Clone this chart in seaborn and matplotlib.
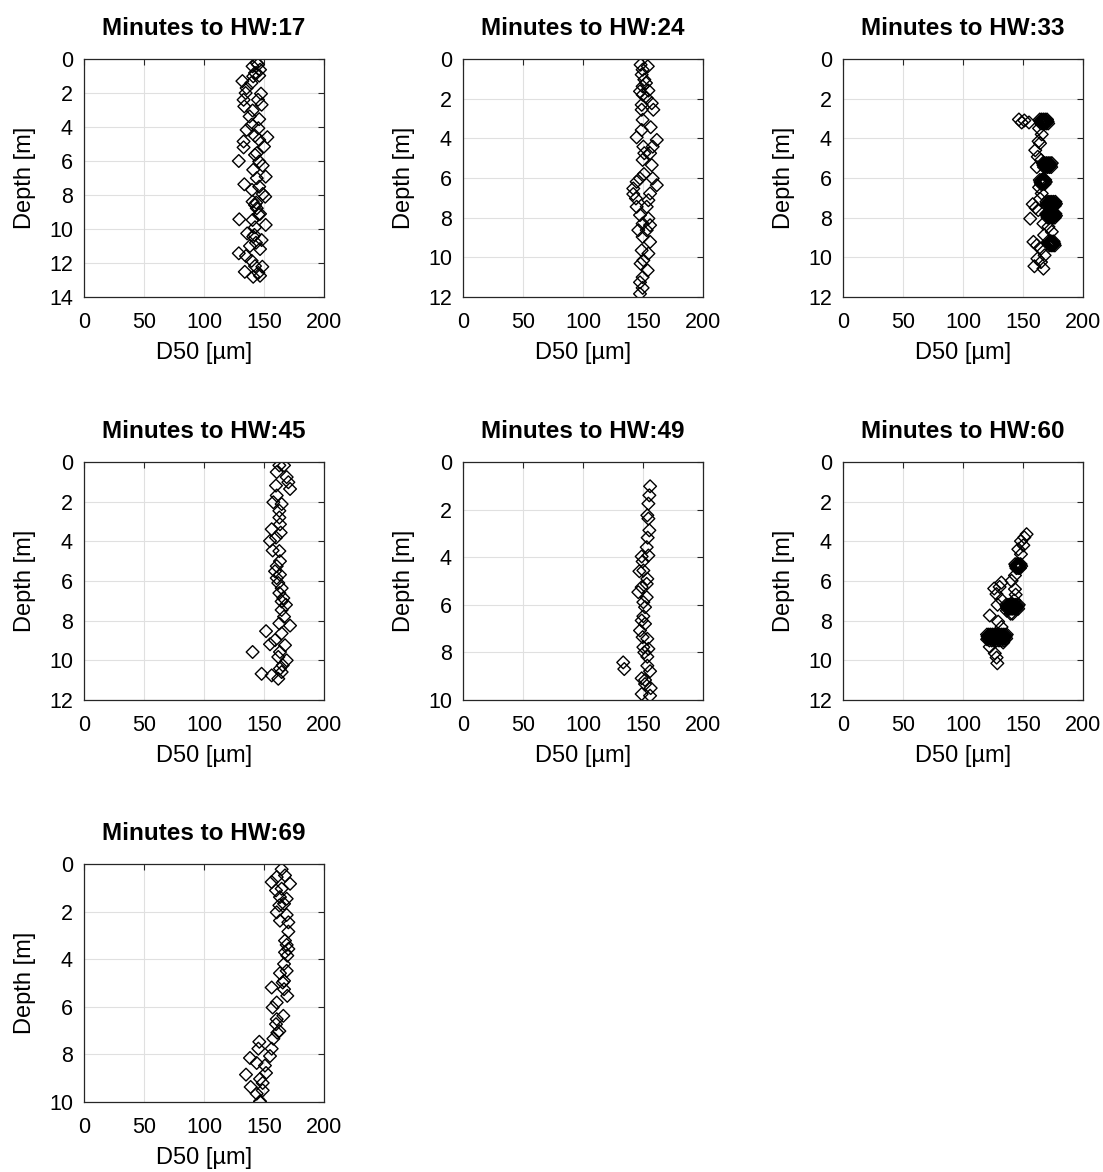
import numpy as np
import pandas as pd
import matplotlib
matplotlib.use("Agg")
import matplotlib.pyplot as plt
import seaborn as sns

titles = ["Minutes to HW:17", "Minutes to HW:24", "Minutes to HW:33",
          "Minutes to HW:45", "Minutes to HW:49", "Minutes to HW:60",
          "Minutes to HW:69"]
ylims = [14, 12, 12, 12, 10, 12, 10]
yticks = [list(range(0, 15, 2)), list(range(0, 13, 2)), list(range(0, 13, 2)),
          list(range(0, 13, 2)), list(range(0, 11, 2)), list(range(0, 13, 2)),
          list(range(0, 11, 2))]
xticks = [0, 50, 100, 150, 200]

# HW:17
d50_17 = [144, 140.5, 145, 146.7, 142.5, 141, 146, 132, 139.5, 135.5, 134.7, 147.5,
          145, 133, 148, 133.6, 140.5, 138, 146, 139.7, 135.5, 145.3, 152.8, 142.5,
          146, 133, 150, 133, 144, 142.5, 146, 129, 148.9, 141, 151.4, 144, 133.6,
          140, 146, 149, 151, 140.5, 142.5, 144, 146.7, 129.4, 140.5, 151.4, 142.5,
          136, 141, 143.3, 148, 138.3, 146.7, 129, 135, 139.7, 142.5, 148.6, 134,
          145.3, 141, 146.7, 143.5, 142, 145.5]
dep_17 = [0.24, 0.43, 0.33, 0.63, 0.82, 1.02, 0.98, 1.3, 1.41, 1.71, 2.0, 2.04,
          2.4, 2.4, 2.69, 2.79, 3.03, 3.38, 3.54, 3.87, 4.17, 4.07, 4.6, 4.52,
          4.76, 4.85, 5.15, 5.2, 5.54, 5.64, 6.03, 6.0, 6.27, 6.52, 6.92, 7.01,
          7.37, 7.7, 7.51, 7.94, 8.1, 8.39, 8.59, 8.78, 9.11, 9.43, 9.47, 9.76,
          9.9, 10.26, 10.45, 10.81, 10.65, 11.0, 11.18, 11.43, 11.59, 11.87, 12.18,
          12.22, 12.52, 12.58, 12.81, 12.75, 8.45, 10.35, 9.15]

# HW:24
d50_24 = [148, 154, 149.7, 148.9, 151.1, 152.5, 149.7, 147.5, 154.5, 149.7, 153.1,
          157.3, 158.6, 148.9, 148.9, 149.7, 156.4, 148.9, 144.7, 161.5, 150.3,
          158.1, 151.1, 155.9, 149.7, 157.3, 150.8, 147.5, 158.1, 144.7, 161.5,
          141.9, 141.9, 155.9, 144.1, 154.5, 144.7, 153.1, 147.5, 154.5, 149.7,
          155.9, 146.1, 153.1, 149.7, 155.9, 148.9, 154.5, 150.3, 148, 153.9,
          149.7, 147.5, 149.7, 147.5]
dep_24 = [0.29, 0.37, 0.54, 0.79, 1.04, 1.21, 1.38, 1.63, 1.59, 1.8, 1.97, 2.23,
          2.56, 2.31, 2.56, 3.07, 3.44, 3.58, 3.95, 4.08, 4.42, 4.42, 4.75, 4.75,
          5.09, 5.35, 5.8, 6.02, 6.02, 6.19, 6.36, 6.53, 6.81, 6.78, 7.03, 7.12,
          7.45, 7.45, 7.87, 8.04, 8.3, 8.38, 8.63, 8.63, 8.97, 9.22, 9.65, 9.81,
          10.15, 10.32, 10.66, 11.0, 11.26, 11.54, 11.84]

# HW:33 (scattered points followed by the dense clusters)
d50_33 = [146.6, 148.9, 151.1, 155, 163.4, 165.6, 164.2, 160.2, 162.3, 165.1,
          161.5, 167, 163.4, 165.6, 164.2, 158.1, 162.7, 156, 167, 171.2, 174,
          167.6, 158.7, 161.5, 165.1, 168, 162, 165, 159.5, 167, 163, 160.5,
          164, 164.5, 165, 165.5, 166, 166.5, 167, 167.5, 168, 168.5, 169, 169.5, 170, 170.5, 171,
          166.5, 167, 167.5, 168, 168.5, 169, 169.5, 170, 170.5, 171, 171.5, 172, 172.5, 173, 173.5, 174,
          164, 164.5, 165, 165.5, 166, 166.5, 167, 167.5, 168, 168.5, 169,
          169.5, 170, 170.5, 171, 171.5, 172, 172.5, 173, 173.5, 174, 174.5, 175, 175.5, 176, 176.5, 177, 177.5,
          169.5, 170, 170.5, 171, 171.5, 172, 172.5, 173, 173.5, 174, 174.5, 175, 175.5, 176, 176.5, 177, 177.5,
          171, 171.5, 172, 172.5, 173, 173.5, 174, 174.5, 175, 175.5, 176, 176.5]
dep_33 = [3.05, 3.2, 3.1, 3.2, 3.5, 3.8, 4.25, 4.6, 4.93, 5.1, 5.45, 6.05,
          6.47, 6.78, 7.05, 7.32, 7.62, 8.05, 8.3, 8.46, 8.71, 8.88, 9.22, 9.39,
          9.56, 9.9, 10.07, 10.24, 10.45, 10.57, 4.15, 7.5,
          3.05, 3.15, 3.25, 3.05, 3.15, 3.25, 3.05, 3.15, 3.25, 3.05, 3.15, 3.25, 3.05, 3.15, 3.25,
          5.25, 5.35, 5.45, 5.25, 5.35, 5.45, 5.25, 5.35, 5.45, 5.25, 5.35, 5.45, 5.25, 5.35, 5.45, 5.25,
          6.1, 6.2, 6.3, 6.1, 6.2, 6.3, 6.1, 6.2, 6.3, 6.1, 6.2,
          7.2, 7.3, 7.4, 7.2, 7.3, 7.4, 7.2, 7.3, 7.4, 7.2, 7.3, 7.4, 7.2, 7.3, 7.4, 7.2, 7.3,
          7.8, 7.9, 8.0, 7.8, 7.9, 8.0, 7.8, 7.9, 8.0, 7.8, 7.9, 8.0, 7.8, 7.9, 8.0, 7.8, 7.9,
          9.2, 9.3, 9.4, 9.2, 9.3, 9.4, 9.2, 9.3, 9.4, 9.2, 9.3, 9.4]

# HW:45
d50_45 = [162.8, 166.7, 160.6, 168.9, 170.3, 171.7, 160, 160.6, 157.8, 164.7, 162.8,
          162.8, 163.3, 156.4, 163.9, 160, 155, 157.2, 162.8, 163.3, 160.6, 159.2,
          163.3, 160.6, 161.9, 164.7, 162.8, 166.1, 164.7, 168.3, 164.7, 166.7,
          162.8, 171.7, 151.7, 164.7, 159.2, 155, 167.5, 140.5, 163.3, 161.9, 168.9,
          165.6, 163.3, 148, 164.7, 156.4, 161.9]
dep_45 = [0.17, 0.17, 0.51, 0.76, 1.02, 1.36, 1.19, 1.69, 2.03, 2.12, 2.46, 2.8,
          3.14, 3.39, 3.56, 3.81, 3.98, 4.46, 4.49, 5.0, 5.25, 5.51, 5.68, 5.85,
          6.1, 6.36, 6.61, 6.86, 7.03, 7.2, 7.46, 7.8, 8.14, 8.25, 8.53, 8.64, 8.98,
          9.19, 9.24, 9.58, 9.58, 9.83, 10.0, 10.25, 10.42, 10.68, 10.59, 10.76,
          10.93]

# HW:49
d50_49 = [155.9, 155.3, 154.5, 153.6, 154.5, 155.3, 153.9, 153.1, 148.9, 154.5,
          149.7, 147, 150.3, 153.6, 153.1, 148.9, 146.1, 153.1, 150.3, 151.7,
          150.3, 148.9, 151.7, 147.5, 149.7, 153.6, 150.3, 154.5, 151.1, 153.6,
          133.5, 134.4, 153.6, 155.9, 148.9, 151.7, 151.7, 156.4, 148.9, 155.9]
dep_49 = [1.02, 1.4, 1.75, 2.24, 2.38, 2.87, 3.18, 3.58, 3.97, 3.93, 4.18, 4.59,
          4.56, 4.91, 5.12, 5.26, 5.47, 5.68, 5.89, 6.1, 6.48, 6.66, 6.8, 7.08,
          7.36, 7.43, 7.78, 7.85, 8.0, 8.18, 8.42, 8.7, 8.56, 8.79, 9.09, 9.16,
          9.33, 9.5, 9.75, 9.82]

# HW:60 (scattered points followed by the dense clusters)
d50_60 = [153, 151.1, 148.3, 150.3, 146.1, 148.3, 143.3, 140.5, 132, 143.3, 126,
          143.9, 127.9, 142.7, 132, 141.9, 128.8, 141.3, 139.7, 122.3, 129.3,
          132.1, 120.1, 122.3, 126.5, 128, 133.5, 128.6, 136.5, 130.5,
          143.5, 144, 144.5, 145, 145.5, 146, 146.5, 147, 147.5, 148, 148.5,
          136, 136.5, 137, 137.5, 138, 138.5, 139, 139.5, 140, 140.5, 141, 141.5, 142, 142.5,
          143, 143.5, 144, 144.5, 145, 145.5, 146, 146.5,
          120, 120.5, 121, 121.5, 122, 122.5, 123, 123.5, 124, 124.5, 125, 125.5, 126, 126.5,
          127, 127.5, 128, 128.5, 129, 129.5, 130, 130.5, 131, 131.5, 132, 132.5,
          133, 133.5, 134, 134.5, 135, 135.5, 136, 136.5, 122, 124, 126, 128, 130, 132, 134]
dep_60 = [3.64, 3.8, 3.99, 4.2, 4.4, 4.65, 5.72, 5.99, 6.08, 6.41, 6.38, 6.69,
          6.66, 6.98, 6.94, 7.2, 7.2, 7.65, 7.65, 7.74, 8.05, 8.32, 8.94, 9.32,
          9.65, 9.86, 9.1, 10.15, 7.5, 6.3,
          5.15, 5.25, 5.35, 5.15, 5.25, 5.35, 5.15, 5.25, 5.35, 5.15, 5.25,
          7.2, 7.3, 7.4, 7.2, 7.3, 7.4, 7.2, 7.3, 7.4, 7.2, 7.3, 7.4, 7.2, 7.3,
          7.4, 7.2, 7.3, 7.4, 7.2, 7.3, 7.4, 7.2,
          8.7, 8.8, 8.9, 8.7, 8.8, 8.9, 8.7, 8.8, 8.9, 8.7, 8.8, 8.9, 8.7, 8.8,
          8.9, 8.7, 8.8, 8.9, 8.7, 8.8, 8.9, 8.7, 8.8, 8.9, 8.7, 8.8,
          8.9, 8.7, 8.8, 8.9, 8.7, 8.8, 8.9, 8.7, 9.0, 9.0, 9.0, 9.0, 9.0, 9.0, 9.0]

# HW:69
d50_69 = [164.7, 160.6, 167.5, 156.4, 171.7, 164.7, 160, 163.3, 168.9, 166.7,
          162.8, 160.6, 168.9, 163.3, 170.3, 170.3, 167.5, 168.9, 170.3, 167.5,
          169.4, 166.7, 168.9, 163.3, 166.7, 165.6, 156.4, 166.7, 169.4, 160.6,
          157.2, 166.1, 160.6, 160, 162.8, 161.1, 157.8, 146.1, 145.3, 156.4, 155,
          138.3, 143.9, 150.8, 151.7, 135, 146.7, 148.9, 138.9, 143.9, 148.9,
          146.7, 146.7]
dep_69 = [0.22, 0.55, 0.48, 0.76, 0.83, 1.04, 1.11, 1.39, 1.46, 1.67, 1.74, 2.03,
          2.14, 2.38, 2.45, 2.84, 3.22, 3.4, 3.57, 3.71, 3.85, 4.2, 4.49, 4.59,
          4.91, 4.98, 5.19, 5.26, 5.54, 5.82, 6.03, 6.38, 6.52, 6.73, 7.02, 7.09,
          7.34, 7.47, 7.76, 7.76, 8.07, 8.15, 8.36, 8.47, 8.78, 8.85, 9.03, 9.2,
          9.37, 9.65, 9.51, 9.97, 10.0]

d50_list = [d50_17, d50_24, d50_33, d50_45, d50_49, d50_60, d50_69]
dep_list = [dep_17, dep_24, dep_33, dep_45, dep_49, dep_60, dep_69]

sns.set_style("white")
plt.rcParams['font.family'] = ['Liberation Sans', 'DejaVu Sans']
plt.rcParams['text.color'] = 'black'
plt.rcParams['axes.labelcolor'] = 'black'
plt.rcParams['xtick.color'] = 'black'
plt.rcParams['ytick.color'] = 'black'

W, H = 1103, 1172
fig = plt.figure(figsize=(W / 100, H / 100), dpi=100)

col_left = [84, 463, 843]
row_top = [59, 462, 864]
aw, ah = 240, 238

for i, (title, ylim, yt, xs, ys) in enumerate(zip(titles, ylims, yticks, d50_list, dep_list)):
    r, c = divmod(i, 3)
    left = col_left[c] / W
    bottom = 1 - (row_top[r] + ah) / H
    ax = fig.add_axes([left, bottom, aw / W, ah / H])
    df = pd.DataFrame({"D50": xs, "Depth": ys})
    sns.scatterplot(data=df, x="D50", y="Depth", ax=ax, marker="D", s=42,
                    facecolor="none", edgecolor="black", linewidth=1.0, legend=False)
    ax.set_xlim(0, 200)
    ax.set_ylim(ylim, 0)
    ax.set_xticks(xticks)
    ax.set_yticks(yt)
    ax.grid(True, color="#e0e0e0", linewidth=0.8)
    ax.set_axisbelow(True)
    ax.tick_params(axis="both", direction="in", length=4, labelsize=15.5,
                   color="#262626", top=True, right=True,
                   labeltop=False, labelright=False)
    ax.tick_params(axis="x", pad=11)
    ax.tick_params(axis="y", pad=8)
    for sp in ax.spines.values():
        sp.set_color("#262626")
        sp.set_linewidth(0.9)
    ax.set_xlabel("D50 [µm]", fontsize=17, labelpad=6)
    ax.set_ylabel("Depth [m]", fontsize=17, labelpad=9)
    ax.set_title(title, fontsize=17.5, fontweight="bold", pad=17)

fig.savefig("out.png", dpi=100)
